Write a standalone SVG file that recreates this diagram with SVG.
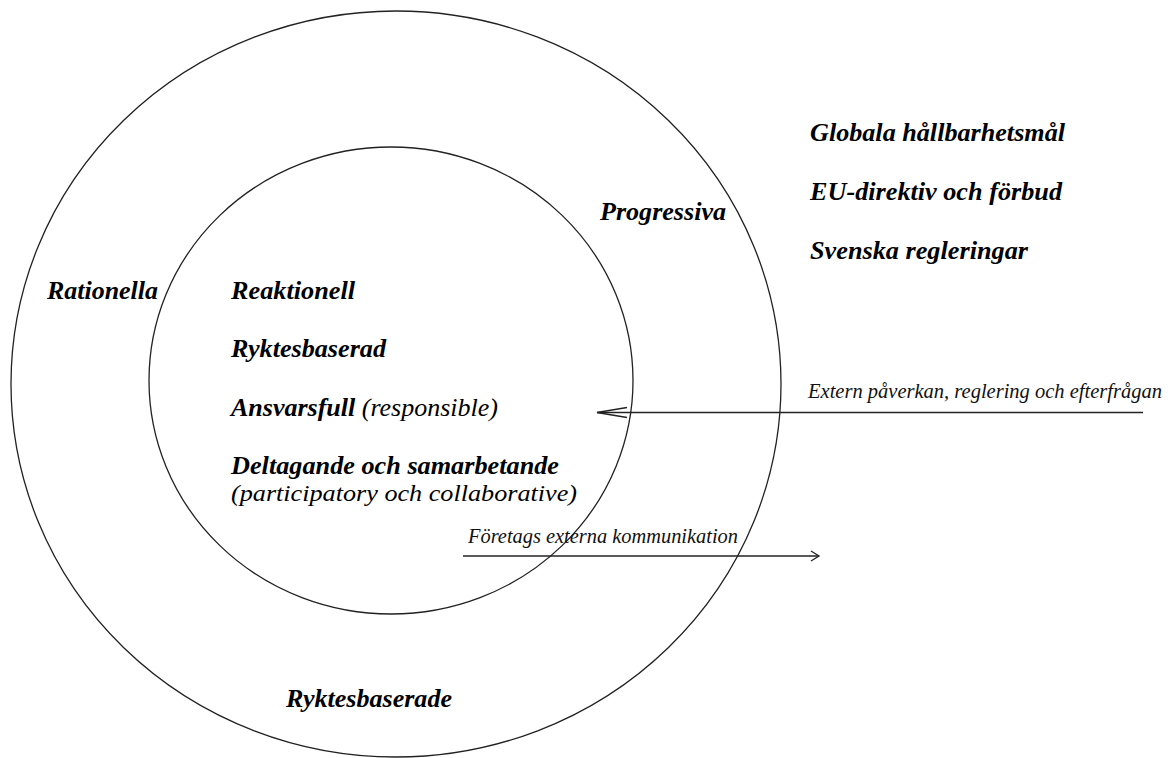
<svg xmlns="http://www.w3.org/2000/svg" width="1172" height="758" viewBox="0 0 1172 758">
  <style>
    .ring { fill: none; stroke: #222; stroke-width: 1.3; }
    .conn { fill: none; stroke: #222; stroke-width: 1.4; }
    .head { fill: none; stroke: #222; stroke-width: 1.3; }
    .bi { font-family: "Liberation Serif", "Times New Roman", serif; font-style: italic; font-weight: bold; font-size: 26px; fill: #000; }
    .it { font-family: "Liberation Serif", "Times New Roman", serif; font-style: italic; font-weight: normal; font-size: 26px; fill: #000; }
    .it2 { font-family: "Liberation Serif", "Times New Roman", serif; font-style: italic; font-weight: normal; font-size: 24px; fill: #000; }
    .lbl { font-family: "Liberation Serif", "Times New Roman", serif; font-style: italic; font-size: 20px; fill: #111; }
  </style>
  <defs>
    <marker id="headLong" markerUnits="userSpaceOnUse" markerWidth="40" markerHeight="20" refX="0" refY="0" orient="auto" overflow="visible">
      <path class="head" d="M -30,-5 L 0,0 L -30,5"/>
    </marker>
    <marker id="headShort" markerUnits="userSpaceOnUse" markerWidth="20" markerHeight="20" refX="0" refY="0" orient="auto" overflow="visible">
      <path class="head" d="M -8,-5 L 0,0 L -8,5"/>
    </marker>
  </defs>
  <rect x="0" y="0" width="1172" height="758" fill="#fff"/>

  <g id="outer-ring">
    <ellipse class="ring" cx="396" cy="384" rx="385" ry="373"/>
    <text class="bi" x="47" y="299" textLength="111" lengthAdjust="spacingAndGlyphs">Rationella</text>
    <text class="bi" x="600" y="220" textLength="126" lengthAdjust="spacingAndGlyphs">Progressiva</text>
    <text class="bi" x="286" y="707" textLength="166" lengthAdjust="spacingAndGlyphs">Ryktesbaserade</text>
  </g>

  <g id="inner-ring">
    <ellipse class="ring" cx="391" cy="380.5" rx="242" ry="233.5"/>
    <text class="bi" x="231" y="299" textLength="124" lengthAdjust="spacingAndGlyphs">Reaktionell</text>
    <text class="bi" x="231" y="357" textLength="155" lengthAdjust="spacingAndGlyphs">Ryktesbaserad</text>
    <text x="231" y="416"><tspan class="bi">Ansvarsfull</tspan><tspan class="it"> (responsible)</tspan></text>
    <text class="bi" x="231" y="474" textLength="328" lengthAdjust="spacingAndGlyphs">Deltagande och samarbetande</text>
    <text class="it2" x="231" y="501" textLength="346" lengthAdjust="spacingAndGlyphs">(participatory och collaborative)</text>
  </g>

  <g id="external-factors">
    <text class="bi" x="810" y="141" textLength="255" lengthAdjust="spacingAndGlyphs">Globala hållbarhetsmål</text>
    <text class="bi" x="810" y="200" textLength="252" lengthAdjust="spacingAndGlyphs">EU-direktiv och förbud</text>
    <text class="bi" x="810" y="259" textLength="218" lengthAdjust="spacingAndGlyphs">Svenska regleringar</text>
  </g>

  <g id="connectors">
    <line class="conn" x1="1143" y1="412.5" x2="597" y2="412.5" marker-end="url(#headLong)"/>
    <text class="lbl" x="808" y="398" textLength="354" lengthAdjust="spacingAndGlyphs">Extern påverkan, reglering och efterfrågan</text>
    <line class="conn" x1="463" y1="556" x2="819" y2="556" marker-end="url(#headShort)"/>
    <text class="lbl" x="468" y="543" textLength="270" lengthAdjust="spacingAndGlyphs">Företags externa kommunikation</text>
  </g>
</svg>
